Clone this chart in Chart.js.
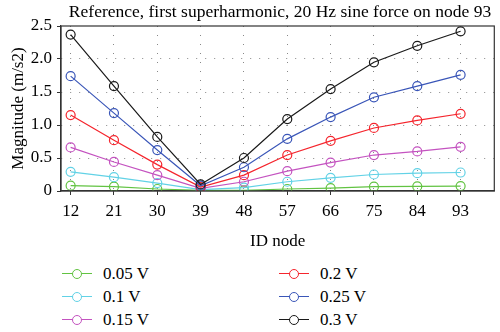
<!DOCTYPE html>
<html>
<head>
<meta charset="utf-8">
<script src="https://cdn.jsdelivr.net/npm/chart.js@4/dist/chart.umd.min.js"></script>
<style>
  html, body { margin: 0; padding: 0; background: #fff; }
  #wrap { position: relative; width: 500px; height: 332px; font-family: "Liberation Serif", "Times New Roman", serif; }
  #chart { position: absolute; left: 0; top: 0; }
  #title { position: absolute; left: 61px; width: 438px; top: 1px; text-align: center; font-size: 17.5px; line-height: 20px; color: #000; white-space: nowrap; }
  .leg { position: absolute; display: flex; align-items: center; font-size: 17px; color: #000; height: 20px; }
  .leg .sw { position: relative; width: 30px; height: 20px; margin-right: 11px; }
  .leg .sw i { position: absolute; left: 0; right: 0; top: 9px; height: 0; border-top: 1.3px solid; }
  .leg .sw b { position: absolute; left: 10px; top: 5px; width: 8px; height: 8px; border: 1.3px solid; border-radius: 50%; background: #fff; }
</style>
</head>
<body>
<div id="wrap">
  <canvas id="chart" width="500" height="252"></canvas>
  <div id="title">Reference, first superharmonic, 20 Hz sine force on node 93</div>
  <div id="legend"></div>
</div>
<script>
// ── Data ────────────────────────────────────────────────────────────────
const nodes = [12, 21, 30, 39, 48, 57, 66, 75, 84, 93];
const yTicks = [0, 0.5, 1, 1.5, 2, 2.5];

const v005 = [0.08, 0.065, 0.03, 0.01, 0.01, 0.03, 0.045, 0.065, 0.07, 0.075];
const v010 = [0.29, 0.21, 0.12, 0.02, 0.05, 0.14, 0.20, 0.25, 0.27, 0.28];
const v015 = [0.66, 0.44, 0.24, 0.04, 0.14, 0.30, 0.43, 0.545, 0.60, 0.67];
const v020 = [1.15, 0.77, 0.40, 0.06, 0.24, 0.545, 0.76, 0.955, 1.07, 1.17];
const v025 = [1.74, 1.18, 0.62, 0.08, 0.36, 0.79, 1.12, 1.42, 1.59, 1.76];
const v030 = [2.37, 1.59, 0.82, 0.10, 0.50, 1.09, 1.545, 1.95, 2.20, 2.42];

const seriesLabels = ["0.05 V", "0.1 V", "0.15 V", "0.2 V", "0.25 V", "0.3 V"];
const seriesData = [v005, v010, v015, v020, v025, v030];
const seriesColors = ["#62c342", "#62d2e6", "#c453c0", "#f5252d", "#3a56b8", "#1a1a1a"];

const FONT = "'Liberation Serif', 'Times New Roman', serif";

// ── Legend (two columns, column-major) ─────────────────────────────────
const legendBox = document.getElementById("legend");
const legCols = [62, 279];
const legRows = [264, 287, 310];
seriesLabels.forEach((lab, i) => {
  const el = document.createElement("div");
  el.className = "leg";
  el.style.left = legCols[Math.floor(i / 3)] + "px";
  el.style.top = legRows[i % 3] + "px";
  const c = seriesColors[i];
  el.innerHTML = `<span class="sw"><i style="border-color:${c}"></i><b style="border-color:${c}"></b></span><span>${lab}</span>`;
  legendBox.appendChild(el);
});

// box round the plot area (top and right sides)
const frame = {
  id: "frame",
  afterDatasetsDraw(chart) {
    const { ctx, chartArea: a } = chart;
    ctx.save();
    ctx.strokeStyle = "#333";
    ctx.lineWidth = 1.2;
    ctx.strokeRect(a.left, a.top, a.right - a.left, a.bottom - a.top);
    ctx.restore();
  },
};

new Chart(document.getElementById("chart"), {
  type: "line",
  data: {
    datasets: seriesData.map((d, i) => ({
      label: seriesLabels[i],
      data: d.map((y, k) => ({ x: nodes[k], y })),
      borderColor: seriesColors[i],
      backgroundColor: "rgba(0,0,0,0)",
      pointBackgroundColor: "rgba(0,0,0,0)",
      pointBorderColor: seriesColors[i],
      pointRadius: 4.5,
      pointBorderWidth: 1.2,
      borderWidth: 1.2,
      tension: 0,
      order: 6 - i,
    })),
  },
  options: {
    responsive: false,
    animation: false,
    layout: { padding: { left: 0, right: 1, top: 26, bottom: 0 } },
    plugins: {
      legend: { display: false },
      tooltip: { enabled: false },
      title: { display: false },
    },
    scales: {
      x: {
        type: "linear",
        min: 10,
        max: 100,
        afterBuildTicks: s => { s.ticks = nodes.map(v => ({ value: v })); },
        afterFit: s => { s.height = 61; },
        ticks: { color: "#000", font: { family: FONT, size: 17 }, padding: 6, maxRotation: 0 },
        grid: {
          color: "#888",
          lineWidth: 1,
          tickLength: 4,
          tickColor: "#333",
          tickBorderDash: [],
        },
        border: { display: true, color: "#333", width: 1.2, dash: [1, 8] },
        title: {
          display: true,
          text: "ID node",
          color: "#000",
          font: { family: FONT, size: 17 },
          padding: { top: 4, bottom: 0 },
        },
      },
      y: {
        min: 0,
        max: 2.5,
        afterBuildTicks: s => { s.ticks = yTicks.map(v => ({ value: v })); },
        afterFit: s => { s.width = 61; },
        ticks: { color: "#000", font: { family: FONT, size: 17 }, padding: 5 },
        grid: {
          color: c => (c.tick && (c.tick.value === 0 || c.tick.value === 2.5) ? "rgba(0,0,0,0)" : "#888"),
          lineWidth: 1,
          tickLength: 4,
          tickColor: "#333",
          tickBorderDash: [],
        },
        border: { display: true, color: "#333", width: 1.2, dash: [1, 8] },
        title: {
          display: true,
          text: "Magnitude (m/s2)",
          color: "#000",
          font: { family: FONT, size: 17 },
          padding: { top: 8, bottom: 0 },
        },
      },
    },
  },
  plugins: [frame],
});
</script>
</body>
</html>
